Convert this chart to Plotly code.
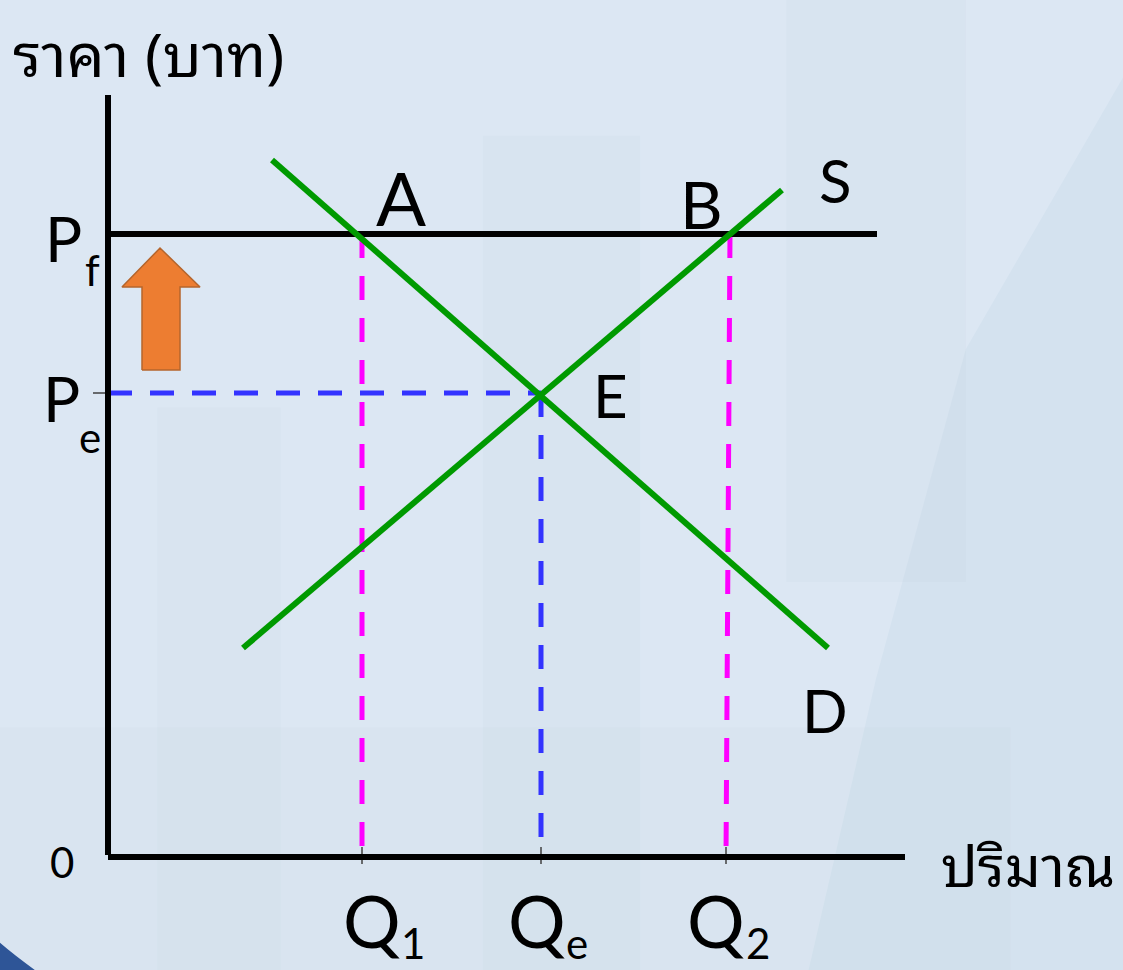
import plotly.graph_objects as go

# ---- data (origin = 0, quantity to the right, price upwards) ----
demand_q = [164, 720]
demand_p = [697, 209]
supply_q = [135, 674]
supply_p = [209, 667]

price_floor = 623
p_e = 464
q_1, q_e, q_2 = 254, 433, 618
q_ticks = [q_1, q_e, q_2]
q_subs = ["1", "e", "2"]
q_shift = [10, -4, -10]      # label nudges, px
sub_shift = [51, 36, 32]

q_axis_end = 797
p_axis_end = 762
floor_end = 769

# block arrow (price pushed up to the floor)
arrow_q = [34, 34, 14, 52, 92, 72, 72, 34]
arrow_p = [487, 570, 570, 609, 570, 570, 487, 487]

GREEN = "#009a00"
MAGENTA = "#ff00ff"
BLUE = "#3333ff"
LATIN = "Lato, 'Open Sans', sans-serif"
THAI = ("'Noto Sans Thai Looped', Loma, Garuda, Tahoma, "
        "'Noto Sans Thai', 'Noto Sans', sans-serif")

fig = go.Figure()


def seg(x, y, color, width, dash="solid"):
    fig.add_trace(go.Scatter(x=x, y=y, mode="lines", hoverinfo="skip",
                             line=dict(color=color, width=width, dash=dash)))


# small tick marks on the axes
for q in q_ticks:
    seg([q, q], [-7, 10], "#404040", 1.5)
seg([-15, 0], [p_e, p_e], "#404040", 1.5)

# dashed guides
seg([0, q_e], [p_e, p_e], BLUE, 5, "24px,18px")
seg([q_e, q_e], [p_e, 0], BLUE, 5, "24px,18px")
seg([q_1, q_1], [price_floor, 0], MAGENTA, 5, "24px,18px")
seg([q_2 + 4, q_2], [price_floor, 0], MAGENTA, 5, "24px,18px")

# axes and price floor
seg([0, 0], [2, p_axis_end], "black", 6)
seg([0, q_axis_end], [0, 0], "black", 6)
seg([0, floor_end], [price_floor, price_floor], "black", 6)

# demand and supply
seg(demand_q, demand_p, GREEN, 6)
seg(supply_q, supply_p, GREEN, 6)

# orange arrow
fig.add_trace(go.Scatter(x=arrow_q, y=arrow_p, mode="lines", fill="toself",
                         fillcolor="#ed7d31", hoverinfo="skip",
                         line=dict(color="#b5652c", width=1.5)))


def label(x, y, text, size, dx=0, dy=0, family=LATIN, anchor="center"):
    fig.add_annotation(x=x, y=y, text=text, showarrow=False,
                       xshift=dx, yshift=dy, xanchor=anchor,
                       font=dict(size=size, color="black", family=family))


label(q_1, price_floor, "A", 74, dx=39, dy=37)
label(q_2, price_floor, "B", 66, dx=-25, dy=31)
label(supply_q[1], supply_p[1], "S", 60, dx=53, dy=10)
label(q_e, p_e, "E", 60, dx=69, dy=-2)
label(demand_q[1], demand_p[1], "D", 60, dx=-3, dy=-62)

label(0, price_floor, "P", 62, dx=-45, dy=-4)
label(0, price_floor, "f", 42, dx=-16, dy=-36)
label(0, p_e, "P", 62, dx=-47, dy=-5)
label(0, p_e, "e", 42, dx=-18, dy=-44)
label(0, 0, "0", 42, dx=-46, dy=-5)

for q, s, dq, ds in zip(q_ticks, q_subs, q_shift, sub_shift):
    label(q, 0, "Q", 72, dx=dq, dy=-63)
    label(q, 0, s, 42, dx=ds, dy=-86)

# axis titles
fig.add_annotation(x=0.01, y=1, xref="paper", yref="paper",
                   xanchor="left", yanchor="top", showarrow=False,
                   text="ราคา (บาท)",
                   font=dict(size=60, color="black", family=THAI))
label(q_axis_end + 34, 0, "ปริมาณ", 57, dy=-4, family=THAI, anchor="left")

# background decoration (slide look)
shapes = [
    dict(type="path", xref="paper", yref="paper", layer="below",
         path="M 1 0.92 L 0.86 0.64 L 0.78 0.30 L 0.72 0 L 1 0 Z",
         fillcolor="#d4e2ef", line=dict(width=0)),
    dict(type="rect", xref="paper", yref="paper", layer="below",
         x0=0.70, x1=0.86, y0=0.4, y1=1,
         fillcolor="rgba(150,170,190,0.05)", line=dict(width=0)),
    dict(type="rect", xref="paper", yref="paper", layer="below",
         x0=0.43, x1=0.57, y0=0, y1=0.86,
         fillcolor="rgba(150,170,190,0.05)", line=dict(width=0)),
    dict(type="rect", xref="paper", yref="paper", layer="below",
         x0=0.14, x1=0.25, y0=0, y1=0.58,
         fillcolor="rgba(150,170,190,0.04)", line=dict(width=0)),
    dict(type="rect", xref="paper", yref="paper", layer="below",
         x0=0.0, x1=0.9, y0=0, y1=0.25,
         fillcolor="rgba(150,170,190,0.04)", line=dict(width=0)),
    dict(type="path", xref="paper", yref="paper", layer="above",
         path="M 0 0.028 Q 0.013 0.015 0.031 0 L 0 0 Z",
         fillcolor="#2e5597", line=dict(width=0)),
]

fig.update_layout(
    width=1123, height=970,
    margin=dict(l=0, r=0, t=0, b=0),
    paper_bgcolor="#dce7f3", plot_bgcolor="rgba(0,0,0,0)",
    showlegend=False,
    xaxis=dict(range=[-108, 1015], visible=False, fixedrange=True),
    yaxis=dict(range=[-113, 857], visible=False, fixedrange=True),
    shapes=shapes,
)

fig.write_html("out.html", config={"displayModeBar": False},
               post_script="document.body.style.margin='0';"
                           "document.body.style.overflow='hidden';")
